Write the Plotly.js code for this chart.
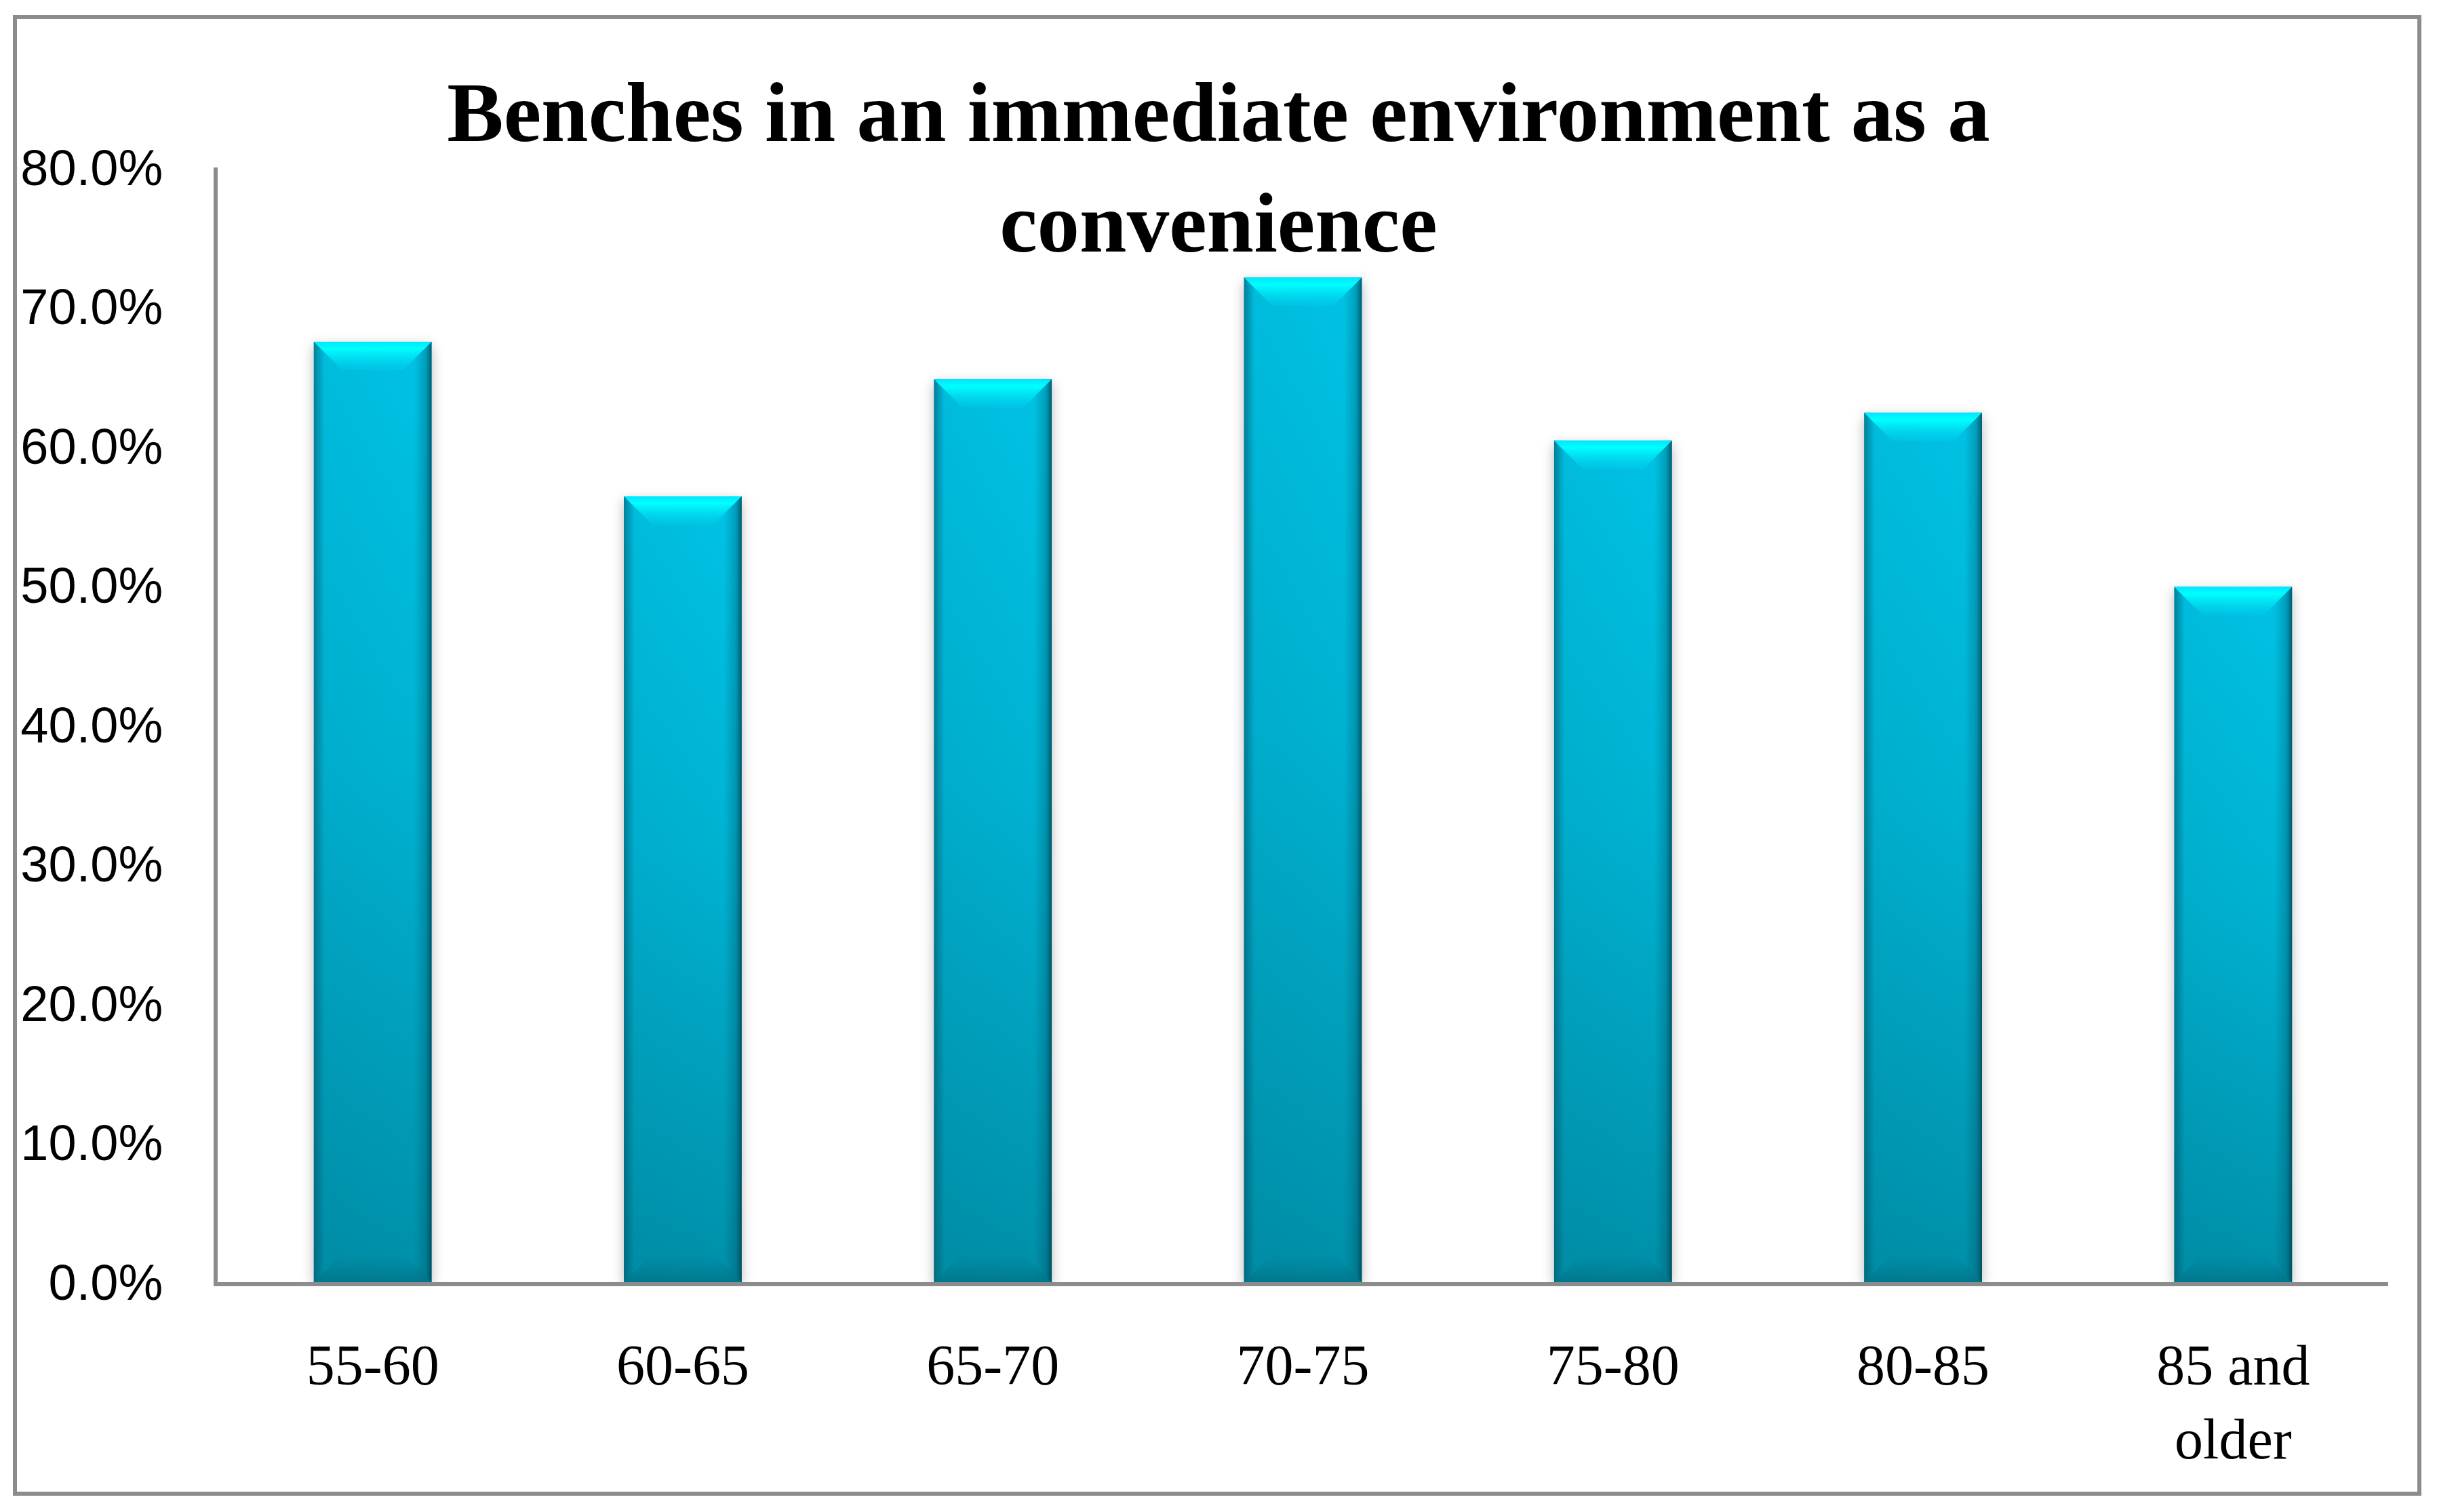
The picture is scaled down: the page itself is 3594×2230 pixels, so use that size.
<!DOCTYPE html>
<html>
<head>
<meta charset="utf-8">
<script src="https://cdn.plot.ly/plotly-3.0.1.min.js"></script>
<style>
  html, body { margin: 0; padding: 0; background: #ffffff; }
  #chart { width: 3594px; height: 2230px; }
</style>
</head>
<body>
<div id="chart"></div>
<script>
// ---- data ----
const categories = ["55-60", "60-65", "65-70", "70-75", "75-80", "80-85", "85 and<br>older"];
const shares = [0.675, 0.564, 0.648, 0.721, 0.604, 0.624, 0.499];
const yTickValues = [0, 0.1, 0.2, 0.3, 0.4, 0.5, 0.6, 0.7, 0.8];
const chartTitle = "Benches in an immediate environment as a<br>convenience";

// ---- layout constants ----
const W = 3594, H = 2230;
const M = { l: 321, r: 72, t: 247, b: 339 };
const plotW = W - M.l - M.r, plotH = H - M.t - M.b;
// outer frame in pixels
const frame = { x0: 22, y0: 25, x1: 3568, y1: 2203 };
const px2x = p => (p - M.l) / plotW;
const px2y = p => 1 - (p - M.t) / plotH;

const trace = {
  type: "bar",
  x: categories,
  y: shares,
  marker: { color: "#00b4d6", line: { width: 0 } },
  hoverinfo: "skip"
};

const layout = {
  width: W,
  height: H,
  margin: M,
  paper_bgcolor: "#ffffff",
  plot_bgcolor: "#ffffff",
  bargap: 0.62,
  showlegend: false,
  title: {
    text: chartTitle,
    font: { family: "Liberation Serif, Times New Roman, serif", size: 125, color: "#000000", weight: "bold" },
    xref: "container", x: 0.5, xanchor: "center",
    yref: "container", y: 1 - 208 / H, yanchor: "top"
  },
  xaxis: {
    type: "category",
    showline: true, linecolor: "#8c8c8c", linewidth: 6,
    showgrid: false, zeroline: false, ticks: "",
    ticklabelstandoff: 44,
    tickfont: { family: "Liberation Serif, Times New Roman, serif", size: 84, color: "#000000" }
  },
  yaxis: {
    range: [0, 0.8],
    tickvals: yTickValues,
    tickformat: ".1%",
    showline: true, linecolor: "#8c8c8c", linewidth: 6,
    showgrid: false, zeroline: false, ticks: "",
    ticklabelstandoff: 60,
    tickfont: { family: "Liberation Sans, Arial, sans-serif", size: 74, color: "#000000" }
  },
  shapes: [{
    type: "rect", xref: "paper", yref: "paper", layer: "below",
    x0: px2x(frame.x0), x1: px2x(frame.x1),
    y0: px2y(frame.y1), y1: px2y(frame.y0),
    line: { color: "#8c8c8c", width: 6 }, fillcolor: "rgba(0,0,0,0)"
  }]
};

Plotly.newPlot("chart", [trace], layout, { staticPlot: true, displayModeBar: false }).then(gd => {
  const NS = "http://www.w3.org/2000/svg";
  const svg = gd.querySelector(".main-svg");
  const defs = document.createElementNS(NS, "defs");
  defs.innerHTML = `
    <linearGradient id="barV" x1="0" y1="0" x2="0" y2="1">
      <stop offset="0" stop-color="#00c2e4"/>
      <stop offset="0.45" stop-color="#00b2d2"/>
      <stop offset="1" stop-color="#008fa8"/>
    </linearGradient>
    <linearGradient id="barH" x1="0" y1="0" x2="1" y2="0">
      <stop offset="0" stop-color="#004a5c" stop-opacity="0.55"/>
      <stop offset="0.09" stop-color="#004a5c" stop-opacity="0.05"/>
      <stop offset="0.85" stop-color="#004a5c" stop-opacity="0"/>
      <stop offset="0.95" stop-color="#004a5c" stop-opacity="0.3"/>
      <stop offset="1" stop-color="#003846" stop-opacity="0.75"/>
    </linearGradient>
    <linearGradient id="capTop" x1="0" y1="0" x2="0" y2="1">
      <stop offset="0" stop-color="#00e6ff"/>
      <stop offset="0.25" stop-color="#00ffff"/>
      <stop offset="1" stop-color="#00d8f4" stop-opacity="0.2"/>
    </linearGradient>
    <linearGradient id="capBot" x1="0" y1="0" x2="0" y2="1">
      <stop offset="0" stop-color="#007f96" stop-opacity="0"/>
      <stop offset="1" stop-color="#00768c" stop-opacity="0.9"/>
    </linearGradient>
    <filter id="barShadow" x="-30%" y="-10%" width="160%" height="120%">
      <feDropShadow dx="0" dy="6" stdDeviation="9" flood-color="#000000" flood-opacity="0.28"/>
    </filter>`;
  svg.insertBefore(defs, svg.firstChild);

  gd.querySelectorAll(".barlayer .point path").forEach(p => {
    const b = p.getBBox();
    p.style.fill = "url(#barV)";
    p.setAttribute("filter", "url(#barShadow)");
    const parent = p.parentNode;
    const ov = p.cloneNode(false);
    ov.removeAttribute("filter");
    ov.style.fill = "url(#barH)";
    parent.appendChild(ov);
    const d = 42, h = 42;
    const cap = document.createElementNS(NS, "path");
    cap.setAttribute("d", `M${b.x},${b.y}L${b.x + b.width},${b.y}L${b.x + b.width - d},${b.y + h}L${b.x + d},${b.y + h}Z`);
    cap.style.fill = "url(#capTop)";
    parent.appendChild(cap);
    const yb = b.y + b.height;
    const bot = document.createElementNS(NS, "path");
    bot.setAttribute("d", `M${b.x},${yb}L${b.x + b.width},${yb}L${b.x + b.width - d},${yb - h}L${b.x + d},${yb - h}Z`);
    bot.style.fill = "url(#capBot)";
    parent.appendChild(bot);
  });
});
</script>
</body>
</html>
